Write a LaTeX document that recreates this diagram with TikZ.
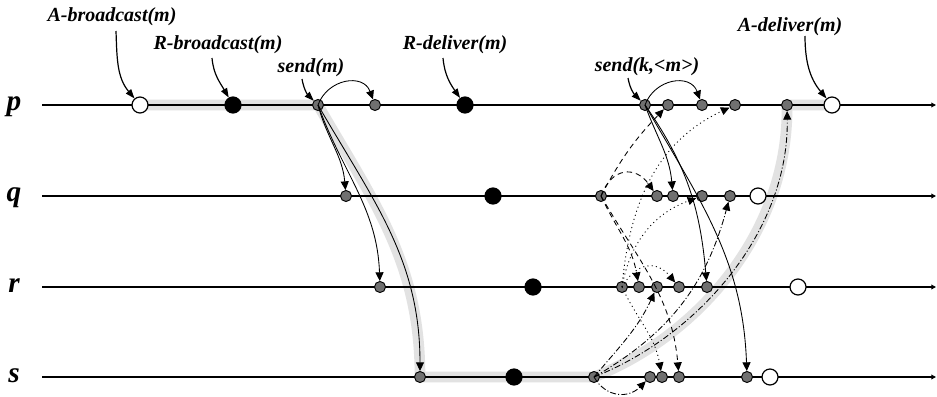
\documentclass[tikz,border=0pt]{standalone}
\usepackage{fontspec}
\setmainfont{Liberation Serif}
\usetikzlibrary{arrows.meta}
\definecolor{evgray}{RGB}{112,112,112}
\definecolor{bandgray}{RGB}{226,226,226}
\pgfdeclarelayer{bg}
\pgfsetlayers{bg,main}
\begin{document}
\begin{tikzpicture}[x=0.75pt,y=0.75pt,
  tl/.style={line width=1.1pt, -{Triangle[length=3.5pt,width=3.5pt]}},
  band/.style={line width=8pt, draw=bandgray, line join=round},
  ev/.style={circle, draw=black, line width=0.9pt, inner sep=0pt},
  wht/.style={ev, fill=white, minimum size=12pt},
  blk/.style={ev, fill=black, minimum size=12pt},
  gry/.style={ev, fill=evgray, minimum size=8.3pt, line width=0.7pt},
  msg/.style={line width=0.65pt, -{Triangle[length=6.5pt,width=6pt]}},
  dsh/.style={msg, dash pattern=on 4pt off 3pt},
  dot/.style={msg, dash pattern=on 0.8pt off 2.4pt},
  dd/.style={msg, dash pattern=on 4.5pt off 1.6pt on 0.8pt off 1.6pt},
  lab/.style={line width=0.9pt, -{Triangle[length=7pt,width=5pt]}},
  lbl/.style={font=\fontsize{15}{17}\selectfont\bfseries\itshape, inner sep=1pt},
  proc/.style={font=\fontsize{22}{24}\selectfont\bfseries\itshape, inner sep=0pt, anchor=base}
]
\useasboundingbox (0,0) rectangle (937,-396);

% process labels
\node[proc] (lp) at (14,-110) {p};
\node[proc] (lq) at (14,-201) {q};
\node[proc] (lr) at (14,-292) {r};
\node[proc] (ls) at (14,-382) {s};

% timeline ends
\coordinate (pL) at (42,-105);  \coordinate (pE) at (936,-105);
\coordinate (qL) at (42,-196);  \coordinate (qE) at (936,-196);
\coordinate (rL) at (42,-287);  \coordinate (rE) at (936,-287);
\coordinate (sL) at (42,-377);  \coordinate (sE) at (936,-377);

% events on p
\node[wht] (pA)  at (140,-105) {};
\node[blk] (pRb) at (233,-105) {};
\node[gry] (ps)  at (318,-105) {};
\node[gry] (p1)  at (375,-105) {};
\node[blk] (pRd) at (465,-105) {};
\node[gry] (pk)  at (645,-105) {};
\node[gry] (p2)  at (668,-105) {};
\node[gry] (p3)  at (702,-105) {};
\node[gry] (p4)  at (735,-105) {};
\node[gry] (p5)  at (787,-105) {};
\node[wht] (pAd) at (832,-105) {};
% events on q
\node[gry] (q1)  at (346,-196) {};
\node[blk] (qRd) at (493,-196) {};
\node[gry] (qk)  at (601,-196) {};
\node[gry] (q2)  at (657,-196) {};
\node[gry] (q3)  at (673,-196) {};
\node[gry] (q4)  at (702,-196) {};
\node[gry] (q5)  at (730,-196) {};
\node[wht] (qAd) at (758,-196) {};
% events on r
\node[gry] (r1)  at (380,-287) {};
\node[blk] (rRd) at (533,-287) {};
\node[gry] (rk)  at (622,-287) {};
\node[gry] (r2)  at (639,-287) {};
\node[gry] (r3)  at (657,-287) {};
\node[gry] (r4)  at (679,-287) {};
\node[gry] (r5)  at (707,-287) {};
\node[wht] (rAd) at (798,-287) {};
% events on s
\node[gry] (s1)  at (420,-377) {};
\node[blk] (sRd) at (514,-377) {};
\node[gry] (sk)  at (594,-377) {};
\node[gry] (s2)  at (650,-377) {};
\node[gry] (s3)  at (662,-377) {};
\node[gry] (s4)  at (679,-377) {};
\node[gry] (s5)  at (747,-377) {};
\node[wht] (sAd) at (770,-377) {};

\begin{pgfonlayer}{bg}
\fill[white] (0,0) rectangle (937,-396);
\draw[band] (pA.center) -- (ps.center) to[out=-60,in=90] (s1.center) -- (sk.center)
  .. controls (700,-335) and (789,-230) .. (p5.center) -- (pAd.center);
\draw[tl] (pL) -- (pE);
\draw[tl] (qL) -- (qE);
\draw[tl] (rL) -- (rE);
\draw[tl] (sL) -- (sE);
\end{pgfonlayer}

% first multicast from p (solid)
\draw[msg] (ps.center) to[out=70,in=110,looseness=1.3] (p1);
\draw[msg] (ps.center) to[out=-75,in=95] (q1);
\draw[msg] (ps.center) to[out=-70,in=92] (r1);
\draw[msg] (ps.center) to[out=-60,in=90] (s1);

% p (solid)
\draw[msg] (pk.center) to[out=70,in=110,looseness=1.3] (p3);
\draw[msg] (pk.center) to[out=-70,in=95] (q3);
\draw[msg] (pk.center) to[out=-55,in=95] (r5);
\draw[msg] (pk.center) to[out=-60,in=92] (s5);

% q (dashed)
\draw[dsh] (qk.center) to[bend left=8] (p2);
\draw[dsh] (qk.center) to[out=70,in=125,looseness=1.5] (q2);
\draw[dsh] (qk.center) to[out=-65,in=100] (r2);
\draw[dsh] (qk.center) to[out=-60,in=95] (s4);

% r (dotted)
\draw[dot] (rk.center) to[out=85,in=-155] (p4);
\draw[dot] (rk.center) to[out=80,in=-160] (q4);
\draw[dot] (rk.center) to[out=60,in=130,looseness=1.4] (r4);
\draw[dot] (rk.center) to[out=-65,in=100] (s3);

% s (dash-dot)
\draw[dd] (sk.center) to[out=-60,in=-135,looseness=1.2] (s2);
\draw[dd] (sk.center) to[out=50,in=-115] (r3);
\draw[dd] (sk.center) to[out=30,in=-105] (q5);
\draw[dd] (sk.center) .. controls (700,-335) and (789,-230) .. (p5);

% labels
\node[lbl] (tA)  at (112,-17) {A-broadcast(m)};
\node[lbl] (tRb) at (218,-45) {R-broadcast(m)};
\node[lbl] (tS)  at (311,-68) {send(m)};
\node[lbl] (tRd) at (455,-45) {R-deliver(m)};
\node[lbl] (tK)  at (647,-67) {send(k,<m>)};
\node[lbl] (tAd) at (790,-27) {A-deliver(m)};

\coordinate (aA)  at (116,-31);
\coordinate (aRb) at (212,-58);
\coordinate (aS)  at (302,-79);
\coordinate (aRd) at (443,-58);
\coordinate (aK)  at (628,-78);
\coordinate (aAd) at (805,-36);

\draw[lab] (aA)  to[out=-88,in=130] (pA);
\draw[lab] (aRb) to[out=-85,in=120] (pRb);
\draw[lab] (aS)  to[out=-80,in=135] (ps);
\draw[lab] (aRd) to[out=-85,in=125] (pRd);
\draw[lab] (aK)  to[out=-80,in=135] (pk);
\draw[lab] (aAd) to[out=-90,in=130] (pAd);
\end{tikzpicture}
\end{document}
